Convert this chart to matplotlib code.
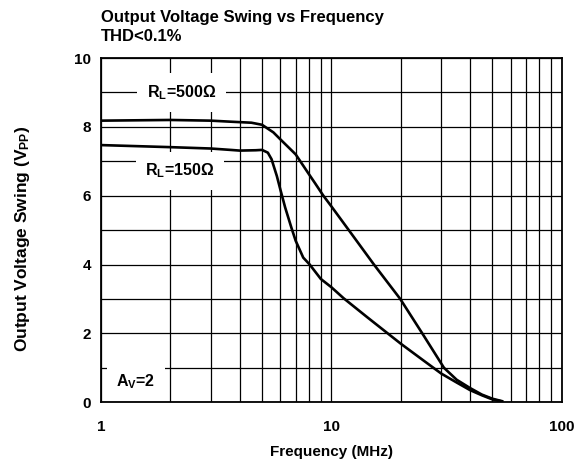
import numpy as np
import matplotlib
matplotlib.use('Agg')
import matplotlib.pyplot as plt
from matplotlib.ticker import LogLocator, FixedLocator, NullFormatter

plt.rcParams['font.family'] = ['Liberation Sans', 'DejaVu Sans']
plt.rcParams['font.weight'] = 'bold'
plt.rcParams['mathtext.fontset'] = 'custom'
plt.rcParams['mathtext.rm'] = 'Liberation Sans:bold'
plt.rcParams['mathtext.bf'] = 'Liberation Sans:bold'
plt.rcParams['mathtext.it'] = 'Liberation Sans:bold'

# RL = 500 ohm
f500 = [1, 2, 3, 3.65, 4.5, 5.0, 5.6, 6.0, 7.0, 8.0, 8.5, 9.23, 10, 11.9,
        15.3, 19.9, 24.8, 30.8, 35, 40, 45, 50, 55]
v500 = [8.18, 8.2, 8.18, 8.15, 8.12, 8.06, 7.84, 7.64, 7.2, 6.62, 6.36, 6.0,
        5.69, 5.0, 4.0, 3.0, 2.0, 1.0, 0.65, 0.41, 0.22, 0.1, 0.03]

# RL = 150 ohm
f150 = [1, 2, 3, 3.65, 4.0, 4.7, 5.0, 5.3, 5.5, 5.8, 6.0, 6.3, 6.7, 7.0,
        7.55, 8.05, 9.0, 10, 11.3, 14.3, 20, 25, 30, 35, 40, 45, 50, 55]
v150 = [7.47, 7.41, 7.37, 7.33, 7.31, 7.32, 7.33, 7.25, 7.06, 6.57, 6.19,
        5.66, 5.08, 4.69, 4.2, 4.0, 3.58, 3.34, 3.02, 2.47, 1.7, 1.22,
        0.83, 0.57, 0.35, 0.2, 0.08, 0.02]

fig = plt.figure(figsize=(5.87, 4.66), dpi=100)
ax = fig.add_axes([0.172, 0.137, 0.785, 0.7385])

ax.plot(f500, v500, color='black', lw=1.9, zorder=3)
ax.plot(f150, v150, color='black', lw=1.9, zorder=3)

ax.set_xscale('log')
ax.set_xlim(1, 100)
ax.set_ylim(0, 10)
ax.set_xticks([1, 10, 100])
ax.set_xticklabels(['1', '10', '100'])
ax.xaxis.set_minor_locator(LogLocator(base=10, subs=np.arange(2, 10)))
ax.xaxis.set_minor_formatter(NullFormatter())
ax.set_yticks([0, 2, 4, 6, 8, 10])
ax.yaxis.set_minor_locator(FixedLocator([1, 3, 5, 7, 9]))
ax.tick_params(which='both', length=0, labelsize=11)
ax.tick_params(axis='x', pad=13)
ax.tick_params(axis='y', pad=7)
ax.grid(which='both', color='black', lw=0.9)
for s in ax.spines.values():
    s.set_linewidth(1.3)

box = dict(facecolor='white', edgecolor='none', pad=7)
ax.text(2.23, 9.0, r'$\mathbf{R_L}$=500$\Omega$', ha='center', va='center',
        fontsize=11.5, bbox=box, zorder=4)
ax.text(2.2, 6.72, r'$\mathbf{R_L}$=150$\Omega$', ha='center', va='center',
        fontsize=11.5, bbox=box, zorder=4)
ax.text(1.42, 0.59, r'$\mathbf{A_V}$=2', ha='center', va='center',
        fontsize=11.5, bbox=box, zorder=4)

ax.set_xlabel('Frequency (MHz)', fontsize=11, fontweight='bold', labelpad=8)
ax.set_ylabel(r'Output Voltage Swing ($\mathbf{V_{PP}}$)', fontsize=12.5,
              fontweight='bold')
ax.yaxis.set_label_coords(-0.15, 0.474)
fig.text(0.172, 0.978, 'Output Voltage Swing vs Frequency\nTHD<0.1%',
         ha='left', va='top', fontsize=12, linespacing=1.35)

fig.savefig('out.png', dpi=100)
